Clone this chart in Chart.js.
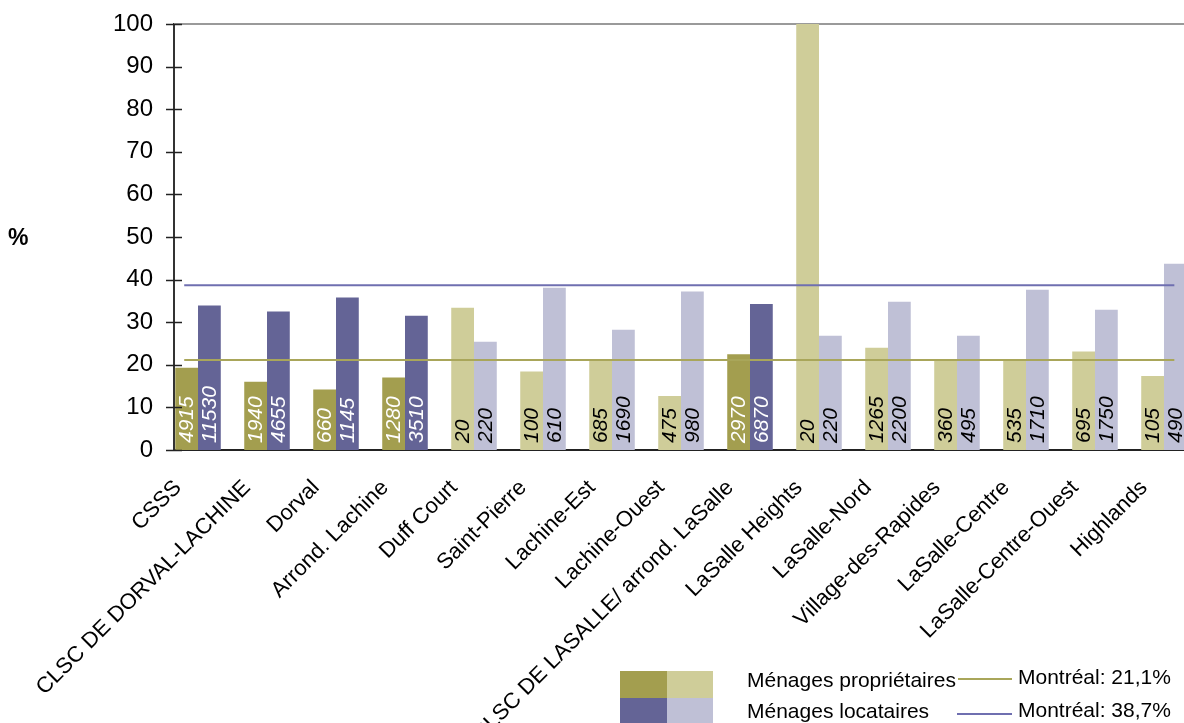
<!DOCTYPE html>
<html>
<head>
<meta charset="utf-8">
<title>Ménages propriétaires et locataires</title>
<script src="https://cdn.jsdelivr.net/npm/chart.js@4.4.1/dist/chart.umd.min.js"></script>
<style>
  html, body { margin: 0; padding: 0; background: #fff; overflow: hidden; }
  #wrap { position: relative; width: 1184px; height: 723px; }
</style>
</head>
<body>
<div id="wrap"><canvas id="chart" width="1184" height="723"></canvas></div>
<script>
// Data
const categories = [
    'CSSS', 'CLSC DE DORVAL-LACHINE', 'Dorval', 'Arrond. Lachine', 'Duff Court',
    'Saint-Pierre', 'Lachine-Est', 'Lachine-Ouest', 'CLSC DE LASALLE/ arrond. LaSalle',
    'LaSalle Heights', 'LaSalle-Nord', 'Village-des-Rapides', 'LaSalle-Centre',
    'LaSalle-Centre-Ouest', 'Highlands'
];
const ownersPct  = [19.3, 16.0, 14.2, 17.0, 33.4, 18.4, 20.9, 12.7, 22.5, 100, 24.0, 21.0, 20.9, 23.1, 17.4];
const rentersPct = [33.9, 32.5, 35.8, 31.5, 25.4, 38.1, 28.2, 37.2, 34.3, 26.8, 34.8, 26.8, 37.6, 32.9, 43.7];
const ownersCount  = [4915, 1940, 660, 1280, 20, 100, 685, 475, 2970, 20, 1265, 360, 535, 695, 105];
const rentersCount = [11530, 4655, 1145, 3510, 220, 610, 1690, 980, 6870, 220, 2200, 495, 1710, 1750, 490];
// territories drawn in the darker shade (CSSS and CLSC totals, arrondissement)
const isAggregate = [true, true, true, true, false, false, false, false, true, false, false, false, false, false, false];
const montrealOwners = 21.1;
const montrealRenters = 38.7;
const yTicks = [0, 10, 20, 30, 40, 50, 60, 70, 80, 90, 100];

// Colours
const OWN_DARK = '#a39e4f', OWN_LIGHT = '#cfcd99';
const RENT_DARK = '#646496', RENT_LIGHT = '#bfc0d6';
const LINE_OWN = '#a9a65a', LINE_RENT = '#6f6fb0';
const FONT = '"Liberation Sans", Arial, sans-serif';

Chart.defaults.font.family = FONT;
Chart.defaults.color = '#000';

// Count labels written upward inside each bar
const barLabels = {
    id: 'barLabels',
    afterDatasetsDraw(chart) {
        const ctx = chart.ctx;
        const base = chart.scales.y.getPixelForValue(0);
        [ownersCount, rentersCount].forEach((counts, d) => {
            chart.getDatasetMeta(d).data.forEach((bar, i) => {
                ctx.save();
                ctx.translate(bar.x, base - 7);
                ctx.rotate(-Math.PI / 2);
                ctx.font = 'italic 21px ' + FONT;
                ctx.fillStyle = isAggregate[i] ? '#fff' : '#000';
                ctx.textAlign = 'left';
                ctx.textBaseline = 'middle';
                ctx.fillText(String(counts[i]), 0, 1);
                ctx.restore();
            });
        });
    }
};

// Top frame line, crossing tick marks, "%" and the legend block
const decor = {
    id: 'decor',
    beforeDatasetsDraw(chart) {
        const { ctx, chartArea, scales: { y } } = chart;
        const top = y.getPixelForValue(100);
        ctx.save();
        ctx.strokeStyle = '#9a9a9a';
        ctx.lineWidth = 2;
        ctx.beginPath();
        ctx.moveTo(chartArea.left, top);
        ctx.lineTo(chartArea.right, top);
        ctx.stroke();
        ctx.restore();
    },
    afterDraw(chart) {
        const { ctx, chartArea, scales: { y } } = chart;
        ctx.save();
        ctx.strokeStyle = '#222';
        ctx.lineWidth = 1.5;
        yTicks.forEach(v => {
            const py = Math.round(y.getPixelForValue(v)) + 0.5;
            ctx.beginPath();
            ctx.moveTo(chartArea.left - 8, py);
            ctx.lineTo(chartArea.left + 8, py);
            ctx.stroke();
        });

        ctx.fillStyle = '#000';
        ctx.font = 'bold 23px ' + FONT;
        ctx.textAlign = 'left';
        ctx.textBaseline = 'alphabetic';
        ctx.fillText('%', 8, 245);

        // legend
        ctx.fillStyle = OWN_DARK;  ctx.fillRect(620, 671, 47, 27);
        ctx.fillStyle = OWN_LIGHT; ctx.fillRect(667, 671, 46, 27);
        ctx.fillStyle = RENT_DARK; ctx.fillRect(620, 698, 47, 26);
        ctx.fillStyle = RENT_LIGHT; ctx.fillRect(667, 698, 46, 26);

        ctx.font = '21px ' + FONT;
        ctx.fillStyle = '#000';
        ctx.fillText('Ménages propriétaires', 747, 687);
        ctx.fillText('Ménages locataires', 747, 718);
        ctx.fillText('Montréal: ' + String(montrealOwners).replace('.', ',') + '%', 1018, 684);
        ctx.fillText('Montréal: ' + String(montrealRenters).replace('.', ',') + '%', 1018, 717);

        ctx.lineWidth = 2;
        ctx.strokeStyle = LINE_OWN;
        ctx.beginPath(); ctx.moveTo(958, 679); ctx.lineTo(1012, 679); ctx.stroke();
        ctx.strokeStyle = LINE_RENT;
        ctx.beginPath(); ctx.moveTo(957, 714); ctx.lineTo(1012, 714); ctx.stroke();
        ctx.restore();
    }
};

const ctx = document.getElementById('chart').getContext('2d');
new Chart(ctx, {
    type: 'bar',
    data: {
        datasets: [
            {
                label: 'Ménages propriétaires',
                data: ownersPct.map((v, i) => ({ x: i, y: v })),
                backgroundColor: isAggregate.map(a => a ? OWN_DARK : OWN_LIGHT),
                borderWidth: 0,
                barPercentage: 1,
                categoryPercentage: 0.66,
                order: 2
            },
            {
                label: 'Ménages locataires',
                data: rentersPct.map((v, i) => ({ x: i, y: v })),
                backgroundColor: isAggregate.map(a => a ? RENT_DARK : RENT_LIGHT),
                borderWidth: 0,
                barPercentage: 1,
                categoryPercentage: 0.66,
                order: 2
            },
            {
                type: 'line',
                label: 'Montréal propriétaires',
                data: [{ x: -0.2, y: montrealOwners }, { x: 14.15, y: montrealOwners }],
                borderColor: LINE_OWN,
                borderWidth: 2,
                pointRadius: 0,
                order: 1
            },
            {
                type: 'line',
                label: 'Montréal locataires',
                data: [{ x: -0.2, y: montrealRenters }, { x: 14.15, y: montrealRenters }],
                borderColor: LINE_RENT,
                borderWidth: 2,
                pointRadius: 0,
                order: 1
            }
        ]
    },
    options: {
        responsive: false,
        animation: false,
        devicePixelRatio: 1,
        layout: { padding: { top: 24, right: 0, left: 0, bottom: 0 } },
        plugins: {
            legend: { display: false },
            tooltip: { enabled: false }
        },
        scales: {
            x: {
                type: 'linear',
                min: -0.348,
                max: 14.29,
                offset: false,
                afterBuildTicks: (axis) => {
                    axis.ticks = categories.map((c, i) => ({ value: i }));
                },
                afterFit: (axis) => {
                    axis.height = 273;
                    axis.paddingLeft = 0;
                    axis.paddingRight = 0;
                },
                grid: { display: false },
                border: { display: true, color: '#222', width: 2 },
                ticks: {
                    autoSkip: false,
                    minRotation: 45,
                    maxRotation: 45,
                    padding: 17,
                    labelOffset: -20,
                    font: { size: 22 },
                    color: '#000',
                    callback: (v) => categories[v]
                }
            },
            y: {
                min: 0,
                max: 100,
                afterBuildTicks: (axis) => {
                    axis.ticks = yTicks.map(v => ({ value: v }));
                },
                afterFit: (axis) => {
                    axis.width = 174;
                    axis.paddingTop = 0;
                    axis.paddingBottom = 0;
                },
                grid: { display: false },
                border: { display: true, color: '#333', width: 2 },
                ticks: {
                    padding: 13,
                    font: { size: 24 },
                    color: '#000'
                }
            }
        }
    },
    plugins: [barLabels, decor]
});
</script>
</body>
</html>
